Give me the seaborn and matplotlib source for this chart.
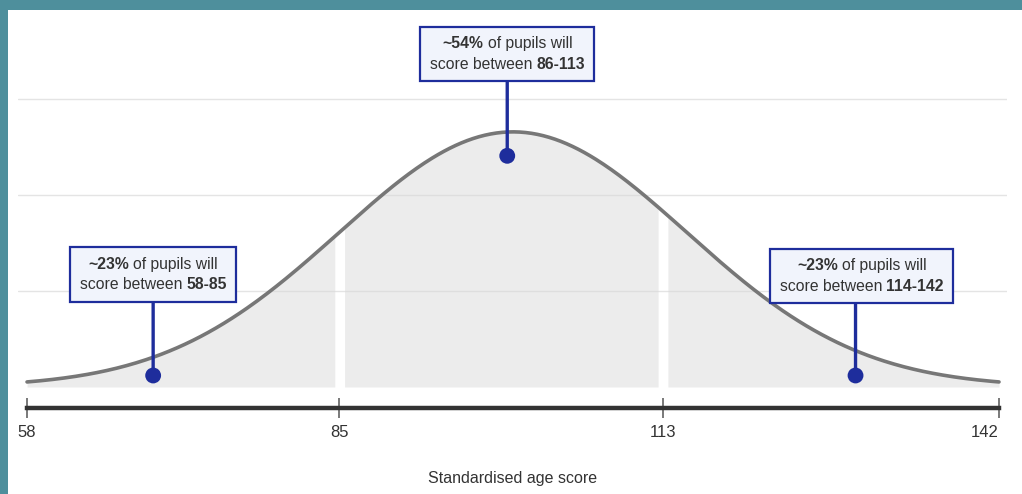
import numpy as np
import pandas as pd
import seaborn as sns
import matplotlib.pyplot as plt
from matplotlib.patches import Rectangle
from matplotlib.offsetbox import TextArea, HPacker, VPacker, AnnotationBbox

# Standardised age score: normal distribution, mean 100, SD 15
score_mean = 100
score_sd = 15
score_min = 58
score_max = 142
tick_scores = [58, 85, 113, 142]
band_bounds = [(58, 85), (85, 113), (113, 142)]
band_shares = ["~23%", "~54%", "~23%"]
band_ranges = ["58-85", "86-113", "114-142"]
marker_scores = [68.9, 99.5, 129.6]
marker_density = [0.0012, 0.0241, 0.0012]

sns.set_theme(style="white")
plt.rcParams["font.family"] = ["Liberation Sans", "DejaVu Sans"]

teal = "#4e8f9c"
navy = "#1e2d9c"
text_col = "#333333"

fig = plt.figure(figsize=(10.22, 4.94), dpi=100, facecolor=teal)
fig.patches.append(Rectangle((8 / 1022, 0), 1, 484 / 494, transform=fig.transFigure,
                             facecolor="white", edgecolor="none", zorder=-10))

ax = fig.add_axes([18 / 1022, 107 / 494, 989 / 1022, 377 / 494])
ax.set_facecolor("none")

# curve
xs = np.linspace(score_min, score_max, 500)
dens = np.exp(-0.5 * ((xs - score_mean) / score_sd) ** 2) / (score_sd * np.sqrt(2 * np.pi))
curve = pd.DataFrame({"score": xs, "density": dens})

# shaded bands with a small white gap between them
gap = 0.36
for i, (lo, hi) in enumerate(band_bounds):
    lo2 = lo + (gap if i > 0 else 0)
    hi2 = hi - (gap if i < len(band_bounds) - 1 else 0)
    part = curve[(curve["score"] >= lo2) & (curve["score"] <= hi2)]
    ax.fill_between(part["score"], 0, part["density"], color="#dadada", alpha=0.5,
                    lw=0, zorder=1)

sns.lineplot(data=curve, x="score", y="density", ax=ax, color="#777777", lw=2.6,
             zorder=3, solid_capstyle="round")

ax.set_xlim(57.22, 142.69)
ax.set_ylim(0, 0.0393)
ax.set_yticks([0.01, 0.02, 0.03])
ax.yaxis.grid(True, color="#e4e4e4", lw=1)
ax.tick_params(axis="y", left=False, labelleft=False)
for s in ["left", "top", "right"]:
    ax.spines[s].set_visible(False)
ax.spines["bottom"].set_position(("outward", 15))
ax.spines["bottom"].set_bounds(score_min, score_max)
ax.spines["bottom"].set_linewidth(3.2)
ax.spines["bottom"].set_color("#333333")
ax.set_xticks(tick_scores)
ax.set_xticklabels([str(t) for t in tick_scores])
ax.tick_params(axis="x", direction="inout", length=15, width=1.1, color="#555555",
               labelsize=12, labelcolor=text_col, pad=5, bottom=True)
ax.get_xticklabels()[0].set_x(58.25)
ax.get_xticklabels()[-1].set_ha("right")
ax.get_xticklabels()[-1].set_x(142.2)
ax.set_xlabel("Standardised age score", fontsize=11.5, color=text_col, labelpad=22)
ax.set_ylabel("")

# dots
sns.scatterplot(x=marker_scores, y=marker_density, ax=ax, color=navy, s=130,
                edgecolor="none", zorder=10)

# callout boxes
box_y = [0.01172, 0.0347, 0.01156]
box_align = [0.5, 0.5, 0.466]
fs = 11.3
for share, rng, mx, my, by, ha in zip(band_shares, band_ranges, marker_scores,
                                      marker_density, box_y, box_align):
    reg = dict(color=text_col, fontsize=fs)
    bold = dict(color=text_col, fontsize=fs, fontweight="bold")
    line1 = HPacker(children=[TextArea(share, textprops=bold),
                              TextArea("of pupils will", textprops=reg)],
                    align="baseline", pad=0, sep=3.1)
    line2 = HPacker(children=[TextArea("score between", textprops=reg),
                              TextArea(rng, textprops=bold)],
                    align="baseline", pad=0, sep=3.1)
    pack = VPacker(children=[line1, line2], align="center", pad=6.8, sep=4.2)
    ab = AnnotationBbox(pack, (mx, my), xybox=(mx, by), xycoords="data",
                        boxcoords="data", box_alignment=(ha, 0.5), pad=0,
                        bboxprops=dict(facecolor="#f1f4fc", edgecolor=navy, lw=1.6,
                                       boxstyle="square,pad=0"),
                        arrowprops=dict(arrowstyle="-", color=navy, lw=2.4,
                                        relpos=(ha, 0), shrinkA=0, shrinkB=0),
                        zorder=8)
    ax.add_artist(ab)

fig.savefig("out.png", dpi=100, facecolor=teal)
